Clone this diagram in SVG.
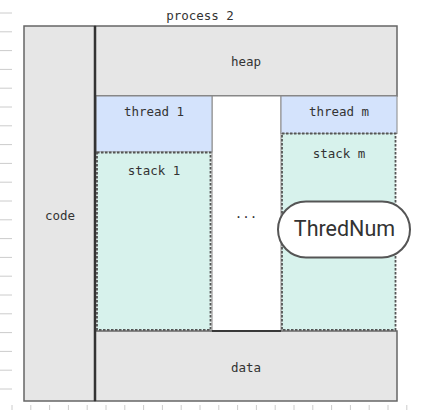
<svg xmlns="http://www.w3.org/2000/svg" width="422" height="411" viewBox="0 0 422 411">
<style>
.mono{font-family:"DejaVu Sans Mono","Liberation Mono",monospace;font-size:12.5px;fill:#333;text-anchor:middle}
.gray{fill:#e6e6e6;stroke:#666;stroke-width:1.5}
.thread{fill:#d4e3fc;stroke:#888;stroke-width:1}
.stack{fill:#d7f2ec;stroke:#555;stroke-width:1.8;stroke-dasharray:2.5 1.5}
.tick{stroke:#ccc;stroke-width:1}
</style>
<rect width="422" height="411" fill="#fff"/>
<g id="ruler">
<path class="tick" d="M0 13H12M0 31.8H12M0 50.6H12M0 69.4H12M0 88.2H12M0 107H12M0 125.8H12M0 144.6H12M0 163.4H12M0 182.2H12M0 201H12M0 219.8H12M0 238.6H12M0 257.4H12M0 276.2H12M0 295H12M0 313.8H12M0 332.6H12M0 351.4H12M0 370.2H12M0 389H12"/>
<path class="tick" d="M12 405V410M30.8 405V410M49.6 405V410M68.4 405V410M87.2 405V410M106 405V410M124.8 405V410M143.6 405V410M162.4 405V410M181.2 405V410M200 405V410M218.8 405V410M237.6 405V410M256.4 405V410M275.2 405V410M294 405V410M312.8 405V410M331.6 405V410M350.4 405V410M369.2 405V410M388 405V410M406.8 405V410"/>
</g>
<g id="process">
<text class="mono" x="200" y="20">process 2</text>
</g>
<g id="code">
<rect class="gray" x="24" y="26" width="71" height="375"/>
<text class="mono" x="60" y="220">code</text>
</g>
<g id="heap">
<rect class="gray" x="95" y="26" width="302" height="70"/>
<text class="mono" x="246" y="66">heap</text>
</g>
<g id="middle">
<rect x="212" y="96" width="69" height="235" fill="#fff" stroke="#888" stroke-width="1"/>
<text class="mono" x="246" y="218">...</text>
</g>
<g id="thread1">
<rect class="thread" x="96" y="96" width="116" height="56"/>
<text class="mono" x="154" y="116">thread 1</text>
</g>
<g id="stack1">
<rect class="stack" x="97" y="152.5" width="113.5" height="177.5"/>
<text class="mono" x="154" y="175">stack 1</text>
</g>
<g id="threadm">
<rect class="thread" x="281" y="96" width="116" height="37.5"/>
<text class="mono" x="339" y="116">thread m</text>
</g>
<g id="stackm">
<rect class="stack" x="282" y="133.5" width="113.5" height="196.5"/>
<text class="mono" x="339" y="158">stack m</text>
</g>
<g id="data">
<rect class="gray" x="95" y="331" width="302" height="70"/>
<line x1="212" y1="331" x2="281" y2="331" stroke="#222" stroke-width="1.5"/>
<text class="mono" x="246" y="372">data</text>
</g>
<g id="divider">
<line x1="95" y1="26" x2="95" y2="401" stroke="#333" stroke-width="2.5"/>
</g>
<g id="thrednum">
<rect x="278" y="201.5" width="132" height="56" rx="28" ry="28" fill="#fff" stroke="#555" stroke-width="2"/>
<text x="344.5" y="236" font-family="Roboto,'Liberation Sans',sans-serif" font-size="21.5" fill="#333" text-anchor="middle">ThredNum</text>
</g>
</svg>
